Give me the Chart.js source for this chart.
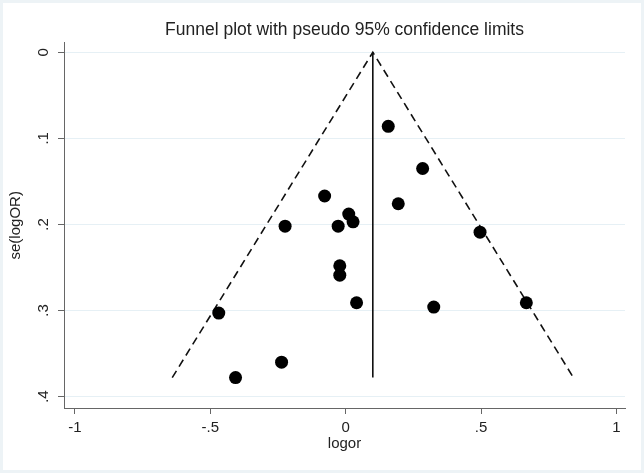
<!DOCTYPE html>
<html>
<head>
<meta charset="utf-8">
<script src="https://cdn.jsdelivr.net/npm/chart.js@4"></script>
<style>
  html, body { margin: 0; padding: 0; background: #fff; }
  #wrap { width: 644px; height: 473px; }
</style>
</head>
<body>
<div id="wrap"><canvas id="myChart" width="644" height="473"></canvas></div>
<script>
// study estimates
const logor = [0.157, 0.284, -0.078, 0.194, 0.011, 0.027, -0.224, -0.028, 0.496, -0.022, -0.022, 0.040, 0.325, 0.667, -0.469, -0.237, -0.407];
const seLogor = [0.086, 0.135, 0.167, 0.176, 0.188, 0.197, 0.202, 0.202, 0.209, 0.248, 0.259, 0.291, 0.296, 0.291, 0.303, 0.360, 0.378];
const pooled = 0.1;
const xTicks = [-1, -0.5, 0, 0.5, 1];
const yTicks = [0, 0.1, 0.2, 0.3, 0.4];

const maxSe = Math.max(...seLogor);
const fmt = (v) => {
    if (v === 0) return '0';
    return String(v).replace('0.', '.');
}

Chart.defaults.font.family = "'Liberation Sans', Arial, sans-serif";
Chart.defaults.color = '#222';

const points = logor.map((x, i) => ({x: x, y: seLogor[i]}));
const funnel = [
    {x: pooled - 1.96 * maxSe, y: maxSe},
    {x: pooled, y: 0},
    {x: pooled + 1.96 * maxSe, y: maxSe}
];
const midLine = [{x: pooled, y: 0}, {x: pooled, y: maxSe}];

// y tick labels are drawn turned on their side, like the original
const sideLabels = {
    id: 'sideLabels',
    afterDraw(chart) {
        const c = chart.ctx;
        const y = chart.scales.y;
        c.save();
        c.fillStyle = '#222';
        c.font = "15px 'Liberation Sans', Arial, sans-serif";
        c.textAlign = 'center';
        c.textBaseline = 'middle';
        y.ticks.forEach(t => {
            c.save();
            c.translate(44, y.getPixelForValue(t.value));
            c.rotate(-Math.PI / 2);
            c.fillText(fmt(t.value), 0, 0);
            c.restore();
        });
        c.restore();
    }
};

const frame = {
    id: 'frame',
    beforeDraw(chart) {
        const c = chart.ctx;
        c.save();
        c.fillStyle = '#fff';
        c.fillRect(0, 0, chart.width, chart.height);
        c.strokeStyle = '#edf3f6';
        c.lineWidth = 3;
        c.strokeRect(1.5, 1.5, chart.width - 3, chart.height - 3);
        c.restore();
    }
};

const ctx = document.getElementById('myChart').getContext('2d');
const myChart = new Chart(ctx, {
    type: 'scatter',
    data: {
        datasets: [
            {
                data: points,
                backgroundColor: '#000',
                borderWidth: 0,
                pointRadius: 6.5,
                pointHoverRadius: 6.5,
                order: 0
            },
            {
                type: 'line',
                data: funnel,
                borderColor: '#111',
                borderWidth: 1.6,
                borderDash: [8, 5],
                pointRadius: 0,
                fill: false,
                tension: 0,
                order: 1
            },
            {
                type: 'line',
                data: midLine,
                borderColor: '#111',
                borderWidth: 1.6,
                pointRadius: 0,
                fill: false,
                order: 1
            }
        ]
    },
    options: {
        responsive: false,
        animation: false,
        layout: {
            padding: {left: 0, right: 19, top: 0, bottom: 0}
        },
        scales: {
            x: {
                type: 'linear',
                min: -1.0406,
                max: 1.0314,
                afterBuildTicks: (scale) => {
                    scale.ticks = xTicks.map(v => ({value: v}));
                },
                afterFit: (scale) => {
                    scale.height = 65;
                },
                grid: {
                    drawOnChartArea: false,
                    drawTicks: true,
                    tickLength: 6,
                    tickColor: '#666'
                },
                border: {
                    display: true,
                    color: '#666',
                    width: 1
                },
                ticks: {
                    padding: 5,
                    font: {size: 15},
                    color: '#222',
                    maxRotation: 0,
                    callback: (v) => fmt(v)
                },
                title: {
                    display: true,
                    text: 'logor',
                    font: {size: 15},
                    color: '#222',
                    padding: {top: 0, bottom: 20}
                }
            },
            y: {
                type: 'linear',
                reverse: true,
                min: -0.01125,
                max: 0.4133,
                afterBuildTicks: (scale) => {
                    scale.ticks = yTicks.map(v => ({value: v}));
                },
                afterFit: (scale) => {
                    scale.width = 64;
                },
                grid: {
                    color: '#e6f0f5',
                    lineWidth: 1,
                    drawTicks: true,
                    tickLength: 6,
                    tickColor: '#666'
                },
                border: {
                    display: true,
                    color: '#666',
                    width: 1
                },
                ticks: {
                    display: false
                },
                title: {
                    display: true,
                    text: 'se(logOR)',
                    font: {size: 15},
                    color: '#222',
                    padding: {top: 7, bottom: 0}
                }
            }
        },
        plugins: {
            legend: {
                display: false
            },
            tooltip: {
                enabled: false
            },
            title: {
                display: true,
                fullSize: false,
                text: 'Funnel plot with pseudo 95% confidence limits',
                font: {size: 17.5, weight: 'normal'},
                color: '#222',
                padding: {top: 20, bottom: 1.6}
            }
        }
    },
    plugins: [frame, sideLabels]
});
</script>
</body>
</html>
